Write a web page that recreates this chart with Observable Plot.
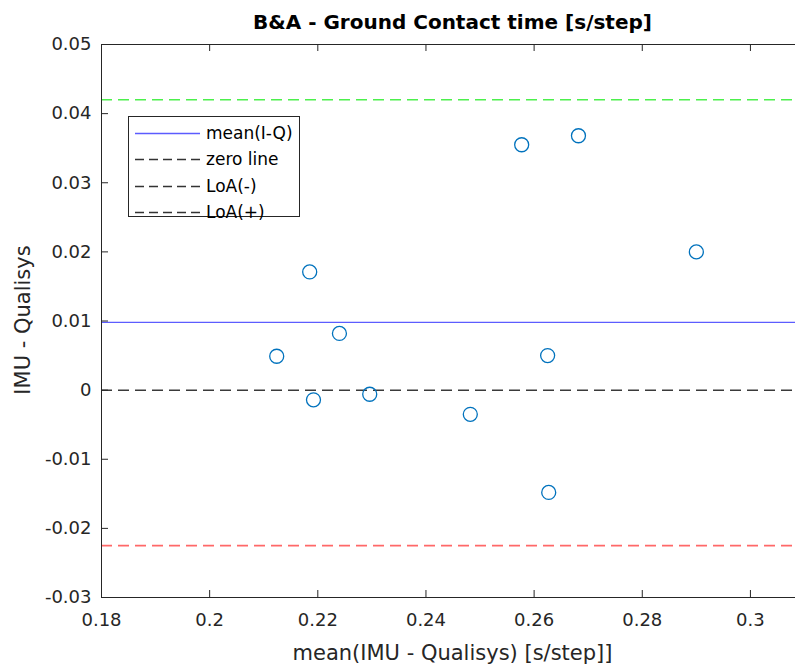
<!DOCTYPE html>
<html>
<head>
<meta charset="utf-8">
<script src="https://cdn.jsdelivr.net/npm/d3@7"></script>
<script src="https://cdn.jsdelivr.net/npm/@observablehq/plot@0.6"></script>
<style>
  html, body { margin: 0; padding: 0; background: #fff; overflow: hidden; }
  #wrap { position: relative; width: 795px; height: 667px; overflow: hidden; font-family: "DejaVu Sans", Verdana, sans-serif; color: #262626; }
  #wrap > svg { position: absolute; left: 0; top: 0; }
  .title { position: absolute; left: 101px; width: 703px; top: 10px; text-align: center; font-weight: bold; font-size: 20px; line-height: 24px; color: #000; white-space: nowrap; }
  .xlabel { position: absolute; left: 101px; width: 703px; top: 641px; text-align: center; font-size: 21px; line-height: 25px; white-space: nowrap; }
  .ylabel { position: absolute; left: 23px; top: 320px; transform: translate(-50%, -50%) rotate(-90deg); white-space: nowrap; font-size: 21px; line-height: 25px; }
  .legend { position: absolute; left: 128px; top: 116px; width: 172px; height: 101px; border: 1px solid #262626; background: #fff; box-sizing: border-box; }
  .legend .row { position: absolute; left: 0; width: 170px; height: 22px; font-size: 17px; line-height: 22px; color: #000; }
  .legend .row svg { position: absolute; left: 6px; top: 10px; }
  .legend .row span { position: absolute; left: 77px; top: 0; white-space: nowrap; }
</style>
</head>
<body>
<div id="wrap"></div>
<script>
// Bland–Altman data: mean of the two systems vs. their difference (s/step)
const meanValues = [0.2124, 0.2185, 0.2192, 0.2240, 0.2296, 0.2482, 0.2577, 0.2625, 0.2627, 0.2682, 0.2900];
const diffValues = [0.0049, 0.0171, -0.0014, 0.0082, -0.0006, -0.0035, 0.0355, 0.0050, -0.0148, 0.0368, 0.0200];

// Reference lines
const meanDiff = 0.0098;
const zeroLine = 0;
const loaLower = -0.0225;
const loaUpper = 0.0420;

// Axes
const xDomain = [0.18, 0.31];
const yDomain = [-0.03, 0.05];
const xTicks = [0.18, 0.20, 0.22, 0.24, 0.26, 0.28, 0.30];
const yTicks = [-0.03, -0.02, -0.01, 0, 0.01, 0.02, 0.03, 0.04, 0.05];

// Legend entries
const legendLabels = ["mean(I-Q)", "zero line", "LoA(-)", "LoA(+)"];
const legendColors = ["#5c5cff", "#333333", "#333333", "#333333"];
const legendDashed = [false, true, true, true];

const points = meanValues.map((m, i) => ({m, d: diffValues[i]}));

const W = 804, H = 667, mL = 101, mR = 0, mT = 44, mB = 70;
const plotW = W - mL - mR, plotH = H - mT - mB;
const fmt = d => String(+d.toFixed(2));
const axisColor = "#262626";
const tickLen = 7;
const dash = "11,6";

const chart = Plot.plot({
  width: W,
  height: H,
  marginLeft: mL,
  marginRight: mR,
  marginTop: mT,
  marginBottom: mB,
  style: {fontFamily: "'DejaVu Sans', Verdana, sans-serif", fontSize: "18px", color: axisColor, background: "transparent", maxWidth: "none", overflow: "visible"},
  x: {domain: xDomain, label: null},
  y: {domain: yDomain, label: null},
  marks: [
    // reference lines
    Plot.ruleY([loaUpper], {stroke: "#4cf04c", strokeWidth: 1.6, strokeDasharray: dash}),
    Plot.ruleY([loaLower], {stroke: "#ff6868", strokeWidth: 1.6, strokeDasharray: dash}),
    Plot.ruleY([meanDiff], {stroke: "#5c5cff", strokeWidth: 1.4}),
    Plot.ruleY([zeroLine], {stroke: "#3a3a3a", strokeWidth: 1.5, strokeDasharray: dash}),
    // observations
    Plot.dot(points, {x: "m", y: "d", r: 7, stroke: "#0072BD", strokeWidth: 1.3, fill: "none"}),
    // box
    Plot.ruleX([xDomain[0]], {stroke: axisColor, strokeWidth: 1}),
    Plot.ruleY([yDomain[0]], {stroke: axisColor, strokeWidth: 1}),
    Plot.ruleY([yDomain[1]], {stroke: axisColor, strokeWidth: 1}),
    // inward ticks
    Plot.tickY(yTicks, {y: d => d, stroke: axisColor, insetRight: plotW - tickLen}),
    Plot.tickX(xTicks, {x: d => d, stroke: axisColor, insetTop: plotH - tickLen}),
    Plot.tickX(xTicks, {x: d => d, stroke: axisColor, insetBottom: plotH - tickLen}),
    // tick labels
    Plot.axisY(yTicks, {tickSize: 0, tickPadding: 10, tickFormat: fmt, fill: axisColor, fontSize: 18}),
    Plot.axisX(xTicks, {tickSize: 0, tickPadding: 16, tickFormat: fmt, fill: axisColor, fontSize: 18})
  ]
});

const wrap = document.getElementById("wrap");
wrap.appendChild(chart);

const title = document.createElement("div");
title.className = "title";
title.textContent = "B&A - Ground Contact time [s/step]";
wrap.appendChild(title);

const xl = document.createElement("div");
xl.className = "xlabel";
xl.textContent = "mean(IMU - Qualisys) [s/step]]";
wrap.appendChild(xl);

const yl = document.createElement("div");
yl.className = "ylabel";
yl.textContent = "IMU - Qualisys";
wrap.appendChild(yl);

const legend = document.createElement("div");
legend.className = "legend";
legendLabels.forEach((lab, i) => {
  const row = document.createElement("div");
  row.className = "row";
  row.style.top = (5 + i * 26.3) + "px";
  row.innerHTML =
    `<svg width="66" height="3"><line x1="0" x2="65" y1="1.5" y2="1.5" stroke="${legendColors[i]}" stroke-width="1.3"` +
    (legendDashed[i] ? ` stroke-dasharray="9,5"` : "") + `/></svg><span>${lab}</span>`;
  legend.appendChild(row);
});
wrap.appendChild(legend);
</script>
</body>
</html>
